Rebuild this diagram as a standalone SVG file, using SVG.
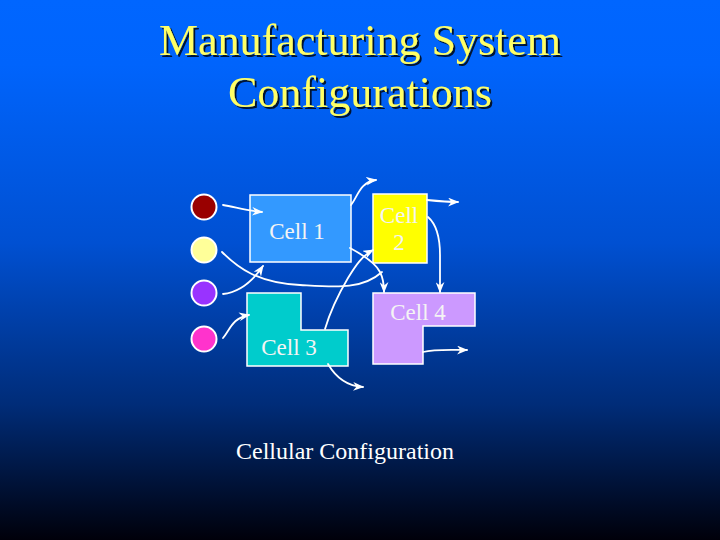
<svg xmlns="http://www.w3.org/2000/svg" width="720" height="540" viewBox="0 0 720 540">
  <defs>
    <linearGradient id="bg" x1="0" y1="0" x2="0" y2="1">
      <stop offset="0" stop-color="#0066FF"/>
      <stop offset="0.12" stop-color="#0064FC"/>
      <stop offset="0.45" stop-color="#0050D2"/>
      <stop offset="0.75" stop-color="#002C78"/>
      <stop offset="1" stop-color="#00000A"/>
    </linearGradient>
    <marker id="arr" viewBox="0 0 10 8" refX="9" refY="4" markerWidth="11" markerHeight="9" markerUnits="userSpaceOnUse" orient="auto">
      <path d="M0,0 L10,4 L0,8 L3,4 z" fill="#FFFFFF"/>
    </marker>
    <filter id="sh" x="-5%" y="-5%" width="110%" height="120%">
      <feDropShadow dx="2" dy="2" stdDeviation="0.6" flood-color="#000000" flood-opacity="0.8"/>
    </filter>
  </defs>
  <style>
    .title { font-family: "Liberation Serif", "Times New Roman", serif; font-size: 44px; fill: #FFFF66; text-anchor: middle; }
    .cell { stroke: #FFFFFF; stroke-width: 1.5; }
    .lbl { font-family: "Liberation Serif", "Times New Roman", serif; font-size: 23px; fill: #F4F4F4; text-anchor: middle; }
    .src { stroke: #FFFFFF; stroke-width: 2; }
    .con { fill: none; stroke: #FFFFFF; stroke-width: 1.8; stroke-linecap: round; }
    .cap { font-family: "Liberation Serif", "Times New Roman", serif; font-size: 24px; fill: #FFFFFF; text-anchor: middle; }
  </style>

  <rect x="0" y="0" width="720" height="540" fill="url(#bg)"/>

  <g id="title" filter="url(#sh)">
    <text class="title" x="360" y="55">Manufacturing System</text>
    <text class="title" x="360" y="107">Configurations</text>
  </g>

  <g id="source1"><circle class="src" cx="204" cy="207" r="12.5" fill="#990000"/></g>
  <g id="source2"><circle class="src" cx="204" cy="250" r="12.5" fill="#FFFF99"/></g>
  <g id="source3"><circle class="src" cx="204" cy="293" r="12.5" fill="#9933FF"/></g>
  <g id="source4"><circle class="src" cx="204" cy="339" r="12.5" fill="#FF33CC"/></g>

  <g id="cell1">
    <rect class="cell" x="250" y="195" width="101" height="67" fill="#3399FF"/>
    <text class="lbl" x="297" y="239">Cell 1</text>
  </g>
  <g id="cell2">
    <rect class="cell" x="373" y="194" width="54" height="69" fill="#FFFF00"/>
    <text class="lbl" x="399" y="223" fill="#FFFFDD">Cell</text>
    <text class="lbl" x="399" y="250" fill="#FFFFDD">2</text>
  </g>
  <g id="cell3">
    <path class="cell" d="M247,293 L301,293 L301,330 L348,330 L348,366 L247,366 Z" fill="#00CCCC"/>
    <text class="lbl" x="289" y="355">Cell 3</text>
  </g>
  <g id="cell4">
    <path class="cell" d="M373,293 L475,293 L475,326 L423,326 L423,364 L373,364 Z" fill="#CC99FF"/>
    <text class="lbl" x="418" y="320">Cell 4</text>
  </g>

  <g id="connectors">
    <path class="con" d="M223,205 C235,207 248,211 262,212" marker-end="url(#arr)"/>
    <path class="con" d="M222,252 C238,268 258,283 300,285 C335,287 362,290 382,272"/>
    <path class="con" d="M223,294 C240,292 252,282 263,266" marker-end="url(#arr)"/>
    <path class="con" d="M223,338 C230,330 232,318 249,315" marker-end="url(#arr)"/>
    <path class="con" d="M351,205 C358,196 360,182 376,180" marker-end="url(#arr)"/>
    <path class="con" d="M350,248 C365,256 376,264 380,272 C384,280 384,286 384,292" marker-end="url(#arr)"/>
    <path class="con" d="M325,329 C330,312 338,295 348,278 C356,265 362,256 373,250" marker-end="url(#arr)"/>
    <path class="con" d="M427,200 C437,201 447,202 458,202" marker-end="url(#arr)"/>
    <path class="con" d="M428,217 C436,224 440,238 440,255 C440,268 440,280 440,292" marker-end="url(#arr)"/>
    <path class="con" d="M423,352 C435,349 450,350 467,350" marker-end="url(#arr)"/>
    <path class="con" d="M328,364 C335,376 345,386 363,387" marker-end="url(#arr)"/>
  </g>

  <g id="caption">
    <text class="cap" x="345" y="459">Cellular Configuration</text>
  </g>
</svg>
